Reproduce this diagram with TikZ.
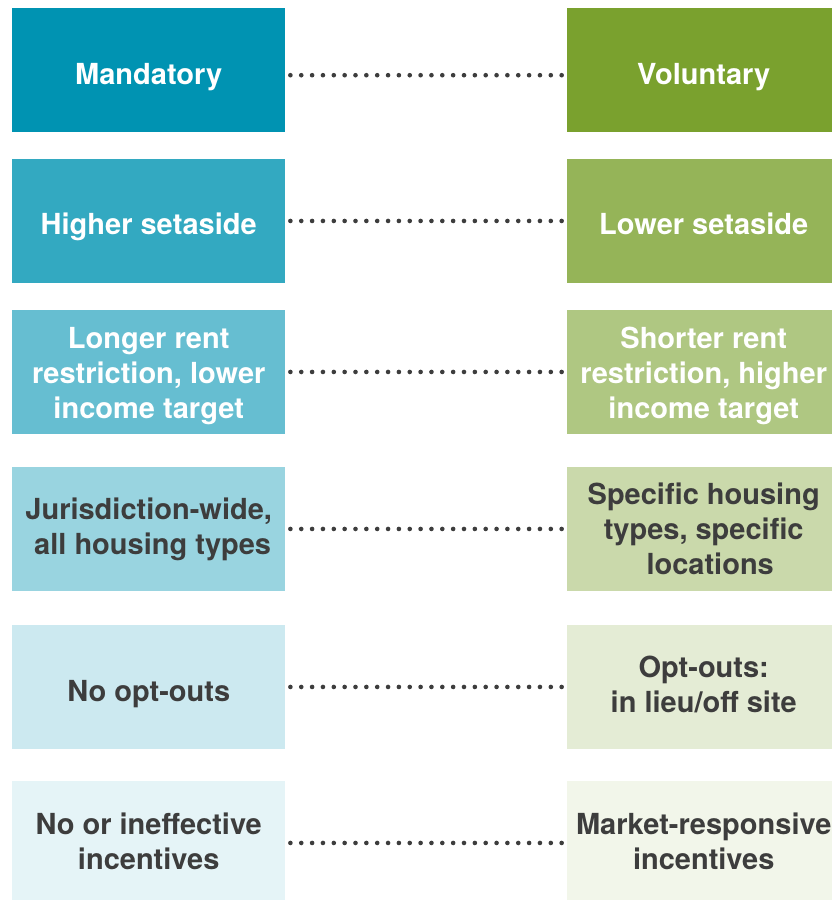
\documentclass[tikz,border=0pt]{standalone}
\usepackage{fontspec}
\setmainfont{TeX Gyre Heros}
\definecolor{cy}{HTML}{0093B2}
\definecolor{gr}{HTML}{7AA12E}
\definecolor{ink}{HTML}{3D3D3D}
\newcommand{\st}{\rule[-7pt]{0pt}{29pt}}
\begin{document}
\begin{tikzpicture}[x=1pt,y=-1pt,
  box/.style={rectangle, inner sep=0pt, minimum width=273pt, minimum height=123.5pt, anchor=north west},
  txt/.style={inner sep=0pt, align=center, font=\fontsize{29}{35}\selectfont\bfseries},
  dots/.style={draw=ink, line width=4.6pt, line cap=round, dash pattern=on 0pt off 10.85pt}]
\clip (0,0) rectangle (832,900);
% left column
\node[box, fill=cy] (L1) at (12,8) {};
\node[box, fill=cy!80!white] (L2) at (12,159) {};
\node[box, fill=cy!60!white] (L3) at (12,310) {};
\node[box, fill=cy!40!white] (L4) at (12,467) {};
\node[box, fill=cy!20!white] (L5) at (12,625) {};
\node[box, fill=cy!10!white] (L6) at (12,781) {};
% right column
\node[box, fill=gr] (R1) at (567,8) {};
\node[box, fill=gr!80!white] (R2) at (567,159) {};
\node[box, fill=gr!60!white] (R3) at (567,310) {};
\node[box, fill=gr!40!white] (R4) at (567,467) {};
\node[box, fill=gr!20!white] (R5) at (567,625) {};
\node[box, fill=gr!10!white] (R6) at (567,781) {};
% texts
\node[txt, text=white] (tL1) at ([yshift=-7.5pt]L1.center) {\st Mandatory};
\node[txt, text=white] (tR1) at ([yshift=-7.5pt]R1.center) {\st Voluntary};
\node[txt, text=white] (tL2) at ([yshift=-6pt]L2.center) {\st Higher setaside};
\node[txt, text=white] (tR2) at ([yshift=-6pt]R2.center) {\st Lower setaside};
\node[txt, text=white] (tL3) at ([yshift=-4pt]L3.center) {\st Longer rent\\\st restriction, lower\\\st income target};
\node[txt, text=white] (tR3) at ([yshift=-4pt]R3.center) {\st Shorter rent\\\st restriction, higher\\\st income target};
\node[txt, text=ink] (tL4) at ([yshift=-0.5pt]L4.center) {\st Jurisdiction-wide,\\\st\hspace*{8pt}all housing types};
\node[txt, text=ink] (tR4) at ([yshift=-3pt]R4.center) {\st Specific housing\\\st types, specific\\\st\hspace*{13pt}locations};
\node[txt, text=ink] (tL5) at ([yshift=-7pt]L5.center) {\st No opt-outs};
\node[txt, text=ink] (tR5) at ([yshift=-0.5pt]R5.center) {\st Opt-outs:\\\st in lieu/off site};
\node[txt, text=ink] (tL6) at ([yshift=-1.5pt]L6.center) {\st No or ineffective\\\st incentives};
\node[txt, text=ink] (tR6) at ([yshift=-1.5pt]R6.center) {\st Market-responsive\\\st incentives};
% dotted connectors
\draw[dots] ([xshift=5pt,yshift=-5.25pt]L1.east) -- ([xshift=-5pt,yshift=-5.25pt]R1.west);
\draw[dots] ([xshift=5pt]L2.east) -- ([xshift=-5pt]R2.west);
\draw[dots] ([xshift=5pt]L3.east) -- ([xshift=-5pt]R3.west);
\draw[dots] ([xshift=5pt]L4.east) -- ([xshift=-5pt]R4.west);
\draw[dots] ([xshift=5pt]L5.east) -- ([xshift=-5pt]R5.west);
\draw[dots] ([xshift=5pt]L6.east) -- ([xshift=-5pt]R6.west);
\end{tikzpicture}
\end{document}
